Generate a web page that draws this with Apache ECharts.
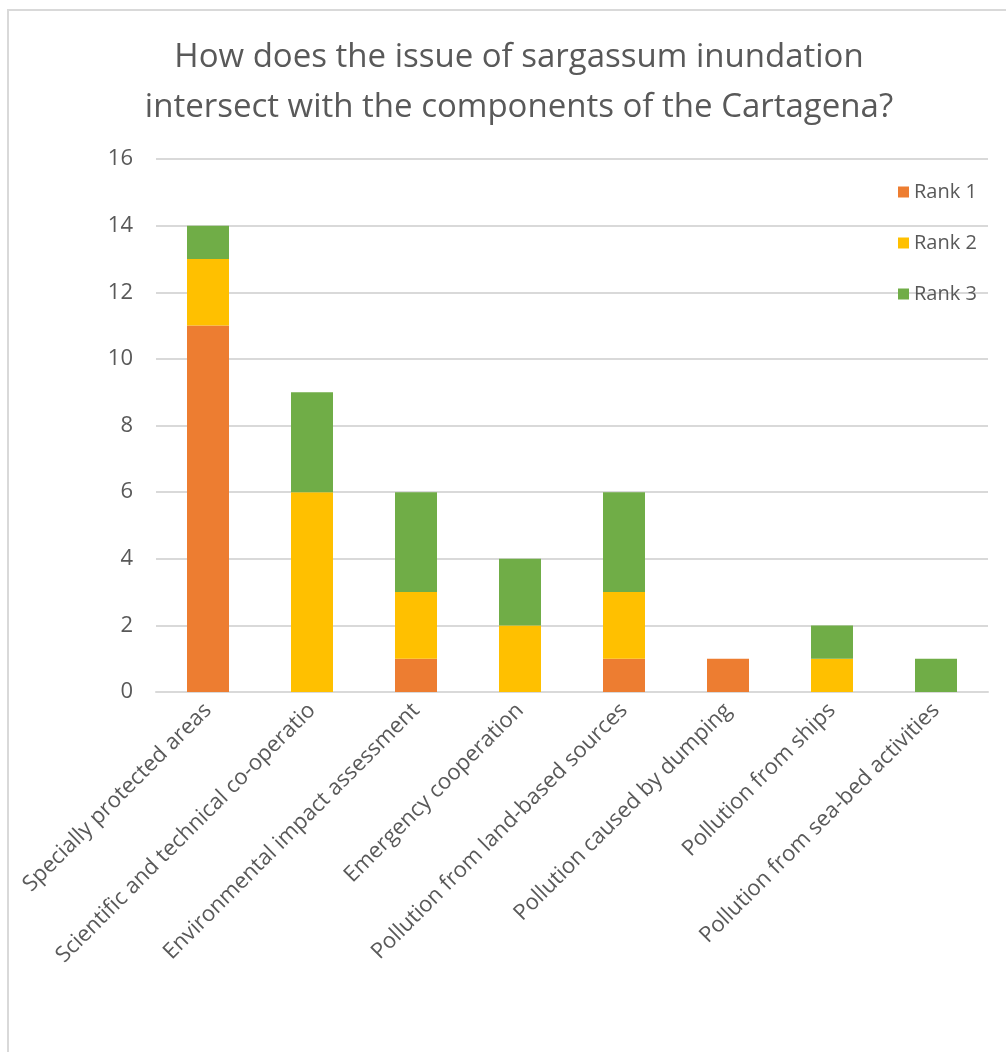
<!DOCTYPE html>
<html>
<head>
<meta charset="utf-8">
<script src="https://cdn.jsdelivr.net/npm/echarts@6/dist/echarts.min.js"></script>
<style>
html,body{margin:0;padding:0;background:#fff;}
#chart{width:1006px;height:1052px;}
</style>
</head>
<body>
<div id="chart"></div>
<script>
const titleText = "How does the issue of sargassum inundation\nintersect with the components of the Cartagena?";
const categories = [
  "Specially protected areas",
  "Scientific and technical co-operatio",
  "Environmental impact assessment",
  "Emergency cooperation",
  "Pollution from land-based sources",
  "Pollution caused by dumping",
  "Pollution from ships",
  "Pollution from sea-bed activities"
];
const seriesNames = ["Rank 1", "Rank 2", "Rank 3"];
const rank1 = [11, 0, 1, 0, 1, 1, 0, 0];
const rank2 = [2, 6, 2, 2, 2, 0, 1, 0];
const rank3 = [1, 3, 3, 2, 3, 0, 1, 1];
const colors = ["#ED7D31", "#FFC000", "#70AD47"];

const chart = echarts.init(document.getElementById('chart'), null, {renderer: 'canvas'});
const font = "'Open Sans', 'Noto Sans', sans-serif";
const dataSets = [rank1, rank2, rank3];
chart.setOption({
  animation: false,
  color: colors,
  textStyle: {fontFamily: font},
  graphic: [
    {type: 'line', shape: {x1: 7, y1: 10, x2: 1006, y2: 10}, style: {stroke: '#d9d9d9', lineWidth: 2}},
    {type: 'line', shape: {x1: 8, y1: 9, x2: 8, y2: 1052}, style: {stroke: '#d9d9d9', lineWidth: 2}}
  ],
  title: {
    text: titleText,
    left: 514,
    textAlign: 'center',
    top: 28,
    textStyle: {fontFamily: font, fontSize: 33, fontWeight: 'normal', color: '#595959', lineHeight: 50}
  },
  legend: {
    orient: 'vertical',
    left: 893,
    top: 177,
    itemWidth: 11,
    itemHeight: 11,
    itemGap: 31,
    icon: 'rect',
    textStyle: {fontFamily: font, fontSize: 20, color: '#595959', padding: [0, 0, 0, 0]},
    data: seriesNames
  },
  grid: {left: 156, right: 18, top: 159, bottom: 360, containLabel: false},
  xAxis: {
    type: 'category',
    data: categories,
    axisLine: {lineStyle: {color: '#d9d9d9', width: 2}},
    axisTick: {show: false},
    axisLabel: {rotate: 45, interval: 0, margin: 15, fontFamily: font, fontSize: 22, color: '#595959'}
  },
  yAxis: {
    type: 'value',
    min: 0,
    max: 16,
    interval: 2,
    axisLine: {show: false},
    axisTick: {show: false},
    splitLine: {lineStyle: {color: '#d9d9d9', width: 2}},
    axisLabel: {margin: 23, fontFamily: font, fontSize: 22, color: '#595959'}
  },
  series: seriesNames.map((n, i) => ({
    name: n,
    type: 'bar',
    stack: 'total',
    barWidth: 42,
    data: dataSets[i],
    itemStyle: {color: colors[i]}
  }))
});
</script>
</body>
</html>
